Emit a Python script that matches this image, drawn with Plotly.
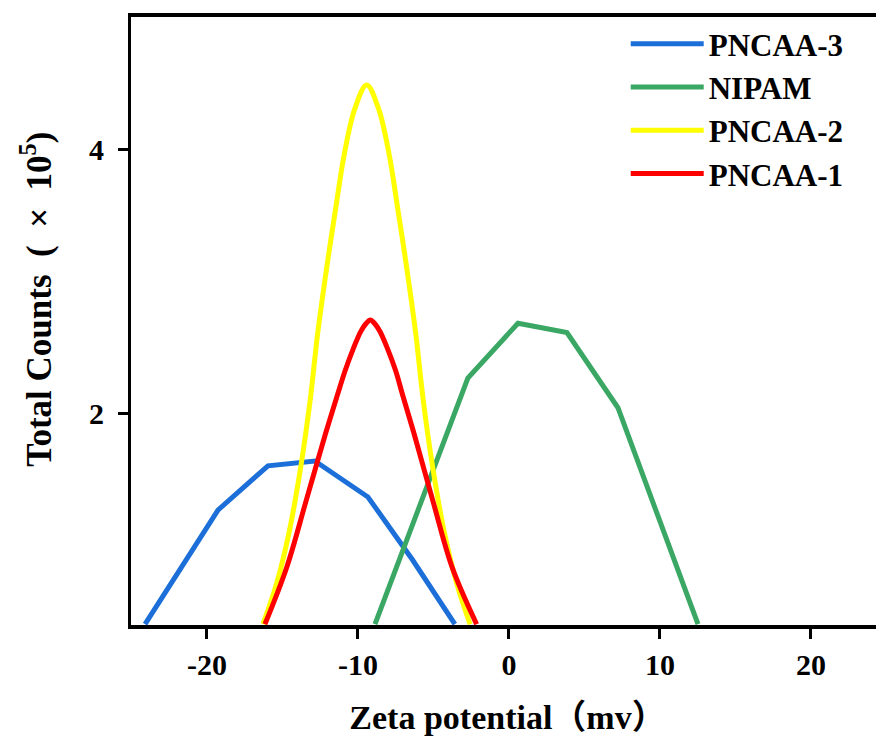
import plotly.graph_objects as go

# PNCAA-3 (blue)
pncaa3_x = [-24.1, -19.27, -15.96, -12.85, -9.34, -6.4, -3.58]
pncaa3_y = [0.40, 1.265, 1.60, 1.636, 1.364, 0.89, 0.40]

# NIPAM (green)
nipam_x = [-8.87, -2.72, 0.60, 3.84, 7.22, 12.52]
nipam_y = [0.40, 2.265, 2.68, 2.61, 2.04, 0.40]

# PNCAA-2 (yellow)
pncaa2_x = [-16.29, -15.38, -14.57, -13.79, -13.16, -12.67, -12.07, -11.42, -10.92, -10.22,
            -9.42, -8.62, -7.92, -7.42, -6.77, -6.17, -5.68, -5.05, -4.27, -3.46, -2.57]
pncaa2_y = [0.40, 0.71, 1.09, 1.59, 2.10, 2.60, 3.10, 3.59, 3.95, 4.30,
            4.485, 4.30, 3.95, 3.59, 3.10, 2.60, 2.10, 1.59, 1.09, 0.71, 0.40]

# PNCAA-1 (red)
pncaa1_x = [-16.16, -14.72, -13.42, -12.13, -11.35, -10.85, -10.30, -9.80, -9.45, -9.18,
            -8.91, -8.55, -8.05, -7.50, -7.05, -6.30, -5.05, -3.76, -2.14]
pncaa1_y = [0.40, 0.83, 1.34, 1.85, 2.14, 2.32, 2.49, 2.62, 2.68, 2.705,
            2.68, 2.62, 2.49, 2.32, 2.14, 1.85, 1.34, 0.83, 0.40]

x_ticks = [-20, -10, 0, 10, 20]
x_tick_text = ["-20", "-10", "0", "10", "20"]
y_ticks = [2, 4]
y_tick_text = ["2", "4"]

series = [
    ("PNCAA-3", pncaa3_x, pncaa3_y, "rgb(28,110,216)", "linear"),
    ("NIPAM", nipam_x, nipam_y, "rgb(58,168,100)", "linear"),
    ("PNCAA-2", pncaa2_x, pncaa2_y, "rgb(255,255,0)", "spline"),
    ("PNCAA-1", pncaa1_x, pncaa1_y, "rgb(255,0,0)", "spline"),
]

fig = go.Figure()
for name, xs, ys, col, shape in series:
    line = dict(color=col, width=5, shape=shape)
    if shape == "spline":
        line["smoothing"] = 1.0
    fig.add_trace(go.Scatter(x=xs, y=ys, mode="lines", name=name, line=line))

font_b = dict(family="Liberation Serif", size=30, color="black", weight="bold")

# page body has an 8px margin: figure is shifted by (8, 8)
fig.update_layout(
    width=876, height=730,
    margin=dict(l=123, r=0, t=9, b=113),
    paper_bgcolor="white", plot_bgcolor="white",
    showlegend=True,
    legend=dict(x=0.657, y=1.0, xanchor="left", yanchor="top",
                font=dict(family="Liberation Serif", size=31, color="black", weight="bold"),
                bgcolor="rgba(0,0,0,0)", itemwidth=73, tracegroupgap=0),
    annotations=[dict(
        text="Total Counts\u00a0\u00a0(\u00a0\u00a0×\u00a0\u00a010<sup>5</sup>)",
        xref="paper", yref="paper", x=-0.1248, y=0.535,
        xanchor="center", yanchor="middle", textangle=-90, showarrow=False,
        font=dict(family="Liberation Serif", size=35, color="black", weight="bold"))],
)
fig.update_xaxes(range=[-25.03, 24.84], tickvals=x_ticks, ticktext=x_tick_text,
                 showgrid=False, zeroline=False, automargin=False,
                 showline=True, linecolor="black", linewidth=4, mirror=True,
                 ticks="outside", ticklen=10, tickwidth=3, tickcolor="black",
                 tickfont=font_b,
                 title=dict(text="Zeta potential（mv）",
                            font=dict(family="Liberation Serif, Noto Sans CJK SC", size=34,
                                      color="black", weight="bold"), standoff=26))
fig.update_yaxes(range=[0.394, 5.0], tickvals=y_ticks, ticktext=y_tick_text,
                 showgrid=False, zeroline=False, automargin=False,
                 showline=True, linecolor="black", linewidth=3, mirror=False,
                 ticks="outside", ticklen=10, tickwidth=3, tickcolor="black",
                 tickfont=font_b, ticklabelstandoff=8)

fig.write_html("out.html")
